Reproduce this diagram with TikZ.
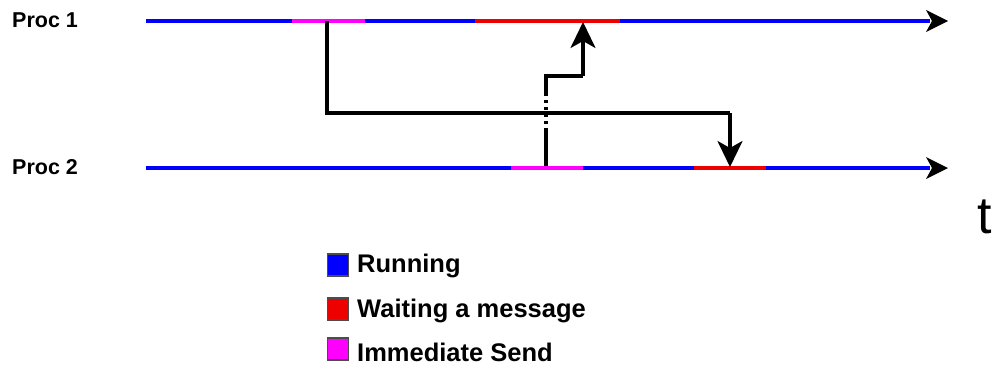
\documentclass[tikz,border=0pt]{standalone}
\usepackage{fontspec}
\setmainfont{Liberation Sans}
\usetikzlibrary{arrows.meta}
\definecolor{runblue}{RGB}{0,0,255}
\definecolor{waitred}{RGB}{238,0,0}
\definecolor{sendmag}{RGB}{255,0,255}
\tikzset{
  seg/.style={line width=4.8pt},
  msg/.style={line width=3.2pt,black},
  msgarrow/.style={line width=3.2pt,black,-{Stealth[length=26pt,width=25pt,inset=7pt]}},
  proclabel/.style={font=\bfseries\fontsize{21.5}{24}\selectfont,anchor=west,inner sep=0pt},
  legbox/.style={draw=black!70,line width=1.2pt,minimum width=21pt,minimum height=22pt,inner sep=0pt},
  legtext/.style={font=\bfseries\fontsize{25.5}{28}\selectfont,anchor=west,inner sep=0pt}
}
\begin{document}
\begin{tikzpicture}[x=1pt,y=-1pt]
\useasboundingbox (0,0) rectangle (994,365);
% labels
\node[proclabel] (p1) at (12,20) {Proc 1};
\node[proclabel] (p2) at (12,167) {Proc 2};
\node[font=\fontsize{52}{56}\selectfont,inner sep=0pt] (t) at (985,217) {t};
% timeline 1
\coordinate (a0) at (146,21);
\coordinate (a1) at (292,21);
\coordinate (a2) at (365,21);
\coordinate (a3) at (475,21);
\coordinate (a4) at (620,21);
\coordinate (a5) at (930,21);
\draw[seg,runblue] (a0) -- (a1);
\draw[seg,sendmag] (a1) -- (a2);
\draw[seg,runblue] (a2) -- (a3);
\draw[seg,waitred] (a3) -- (a4);
\draw[seg,runblue] (a4) -- (a5);
\fill[black] (926,10) -- (948,21) -- (926,32) -- (932,21) -- cycle;
% timeline 2
\coordinate (b0) at (146,168);
\coordinate (b1) at (511,168);
\coordinate (b2) at (583,168);
\coordinate (b3) at (694,168);
\coordinate (b4) at (766,168);
\coordinate (b5) at (930,168);
\draw[seg,runblue] (b0) -- (b1);
\draw[seg,sendmag] (b1) -- (b2);
\draw[seg,runblue] (b2) -- (b3);
\draw[seg,waitred] (b3) -- (b4);
\draw[seg,runblue] (b4) -- (b5);
\fill[black] (926,157) -- (948,168) -- (926,179) -- (932,168) -- cycle;
% message 1: Proc 1 -> Proc 2
\coordinate (m1s) at (327,21);
\coordinate (m1a) at (327,113);
\coordinate (m1b) at (730,113);
\coordinate (m1e) at (730,167);
\draw[msg] (m1s) -- (m1a) -- (m1b);
\draw[msgarrow] (m1b) -- (m1e);
% message 2: Proc 2 -> Proc 1
\coordinate (m2s) at (546,166);
\coordinate (m2d1) at (546,128);
\coordinate (m2d2) at (546,93);
\coordinate (m2a) at (546,76);
\coordinate (m2b) at (583,76);
\coordinate (m2e) at (583,22);
\draw[msg] (m2s) -- (m2d1);
\draw[msg,dash pattern=on 3pt off 4pt,dash phase=-4pt] (m2d1) -- (m2d2);
\draw[msg] (m2d2) -- (m2a) -- (m2b);
\draw[msgarrow] (m2b) -- (m2e);
% legend
\node[legbox,fill=runblue] (l1) at (338,265) {};
\node[legbox,fill=waitred] (l2) at (338,309) {};
\node[legbox,fill=sendmag] (l3) at (338,349) {};
\node[legtext] (l1t) at (357,266) {Running};
\node[legtext] (l2t) at (357,311) {Waiting a message};
\node[legtext] (l3t) at (357,352) {Immediate Send};
\end{tikzpicture}
\end{document}
